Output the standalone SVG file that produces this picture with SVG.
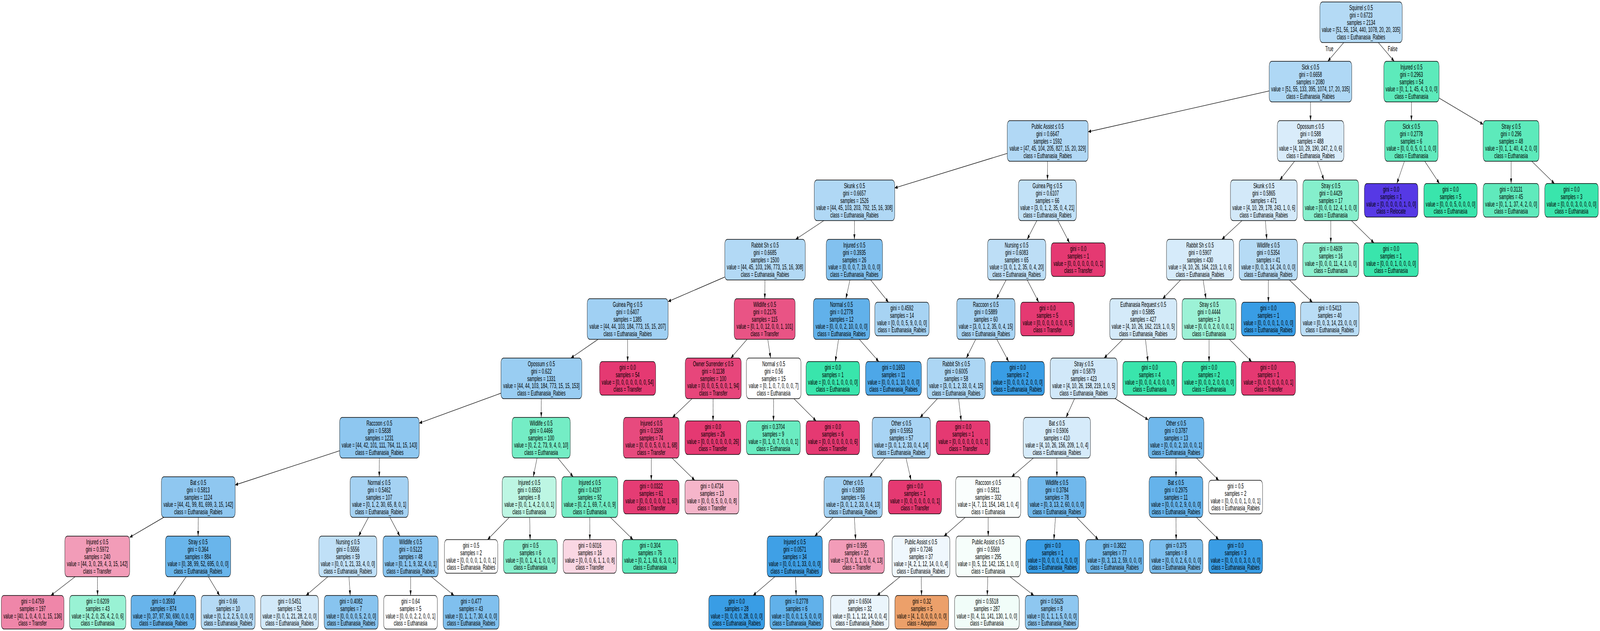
<svg xmlns="http://www.w3.org/2000/svg" width="7477" height="1616" viewBox="0 0 7477 1616" preserveAspectRatio="none">
<style>
svg{width:100vw;height:100vh;display:block}
.node rect{stroke:#000;stroke-width:1.33}
text{font-family:"Liberation Sans",Arial,Helvetica,sans-serif;font-size:18.67px;text-anchor:middle;fill:#000}
#edges line{stroke:#000;stroke-width:1.33;marker-end:url(#arr)}
</style>
<defs>
<marker id="arr" markerUnits="userSpaceOnUse" markerWidth="14" markerHeight="10" refX="13.3" refY="4.7" orient="auto"><path d="M0,0 L13.3,4.7 L0,9.4 z" fill="#000"/></marker>
</defs>
<rect width="7477" height="1616" fill="#fff"/>
<g id="edges">
<line x1="6279.6" y1="109" x2="6204.9" y2="157"/>
<line x1="6441.1" y1="109" x2="6515.4" y2="157"/>
<line x1="5931" y1="232.9" x2="5085" y2="337.6"/>
<line x1="6124.2" y1="261" x2="6124.3" y2="309"/>
<line x1="6595.8" y1="261" x2="6595.7" y2="309"/>
<line x1="6725" y1="251.1" x2="6931" y2="318.4"/>
<line x1="4707" y1="392.8" x2="4181" y2="481.4"/>
<line x1="4895.5" y1="413" x2="4895" y2="461"/>
<line x1="6049.8" y1="413" x2="5980.7" y2="461"/>
<line x1="6156.8" y1="413" x2="6186.7" y2="461"/>
<line x1="6563.2" y1="413" x2="6527.7" y2="470"/>
<line x1="6658.1" y1="413" x2="6726.7" y2="470"/>
<line x1="7061.5" y1="413" x2="7061.5" y2="470"/>
<line x1="7158.1" y1="413" x2="7264.1" y2="470"/>
<line x1="3850" y1="565" x2="3718" y2="613"/>
<line x1="3992.8" y1="565" x2="3992.7" y2="613"/>
<line x1="4845.4" y1="565" x2="4800.1" y2="613"/>
<line x1="4943.9" y1="565" x2="4998.1" y2="622"/>
<line x1="5804.1" y1="565" x2="5709.9" y2="613"/>
<line x1="5913.2" y1="565" x2="5919.8" y2="613"/>
<line x1="6219" y1="565" x2="6219" y2="622"/>
<line x1="6315.3" y1="565" x2="6420.9" y2="622"/>
<line x1="3387" y1="709.5" x2="3122" y2="772.3"/>
<line x1="3574.5" y1="717" x2="3574" y2="765"/>
<line x1="3972" y1="717" x2="3953" y2="765"/>
<line x1="4068.6" y1="717" x2="4152.1" y2="774"/>
<line x1="4701.7" y1="717" x2="4656.3" y2="765"/>
<line x1="4800.3" y1="717" x2="4854.3" y2="774"/>
<line x1="5517.2" y1="717" x2="5433.3" y2="765"/>
<line x1="5622.4" y1="717" x2="5635.6" y2="765"/>
<line x1="5927.2" y1="717" x2="5927.3" y2="774"/>
<line x1="6025.4" y1="717" x2="6133.2" y2="774"/>
<line x1="2795.1" y1="869" x2="2667.9" y2="917"/>
<line x1="2933" y1="869" x2="2933" y2="926"/>
<line x1="3491.2" y1="869" x2="3415.3" y2="917"/>
<line x1="3587.9" y1="869" x2="3601.1" y2="917"/>
<line x1="3918.6" y1="869" x2="3903.5" y2="926"/>
<line x1="4015.6" y1="869" x2="4106.8" y2="926"/>
<line x1="4559.6" y1="869" x2="4515.9" y2="917"/>
<line x1="4658" y1="869" x2="4713.8" y2="926"/>
<line x1="5247.4" y1="869" x2="5159.6" y2="917"/>
<line x1="5352.9" y1="869" x2="5364.4" y2="926"/>
<line x1="5650" y1="869" x2="5650" y2="926"/>
<line x1="5744.9" y1="869" x2="5849" y2="926"/>
<line x1="2341" y1="1007" x2="1959" y2="1083.7"/>
<line x1="2529.7" y1="1021" x2="2529.3" y2="1069"/>
<line x1="3234" y1="1021" x2="3142.5" y2="1069"/>
<line x1="3332.5" y1="1021" x2="3332" y2="1078"/>
<line x1="3615" y1="1021" x2="3614.5" y2="1078"/>
<line x1="3710.1" y1="1021" x2="3813.8" y2="1078"/>
<line x1="4380.8" y1="1021" x2="4299.7" y2="1069"/>
<line x1="4479.6" y1="1021" x2="4491.8" y2="1078"/>
<line x1="5021.6" y1="1021" x2="4981.9" y2="1069"/>
<line x1="5212.1" y1="1021" x2="5366" y2="1075.2"/>
<line x1="1587" y1="1154.4" x2="1099" y2="1242"/>
<line x1="1772.7" y1="1173" x2="1772.3" y2="1221"/>
<line x1="2509.8" y1="1173" x2="2492.2" y2="1221"/>
<line x1="2606.7" y1="1173" x2="2678.3" y2="1221"/>
<line x1="3043.5" y1="1173" x2="3043.5" y2="1230"/>
<line x1="3140.5" y1="1173" x2="3246.8" y2="1230"/>
<line x1="4135" y1="1173" x2="4064" y2="1221"/>
<line x1="4233.7" y1="1173" x2="4257.5" y2="1230"/>
<line x1="4829.2" y1="1173" x2="4727.8" y2="1221"/>
<line x1="4939" y1="1173" x2="4939" y2="1221"/>
<line x1="5495.8" y1="1173" x2="5495.7" y2="1221"/>
<line x1="5591.1" y1="1173" x2="5695.4" y2="1230"/>
<line x1="765" y1="1325" x2="606" y2="1376.2"/>
<line x1="926.2" y1="1325" x2="925.8" y2="1373"/>
<line x1="1721.9" y1="1325" x2="1675.6" y2="1373"/>
<line x1="1822.3" y1="1325" x2="1868.7" y2="1373"/>
<line x1="2380.1" y1="1325" x2="2278.3" y2="1382"/>
<line x1="2475.1" y1="1325" x2="2477.3" y2="1382"/>
<line x1="2756.2" y1="1325" x2="2756.4" y2="1382"/>
<line x1="2852.5" y1="1325" x2="2958.2" y2="1382"/>
<line x1="3893.6" y1="1325" x2="3807.4" y2="1373"/>
<line x1="3992.5" y1="1325" x2="3998.5" y2="1382"/>
<line x1="4510.6" y1="1325" x2="4411.4" y2="1373"/>
<line x1="4618" y1="1325" x2="4618" y2="1373"/>
<line x1="4932.3" y1="1325" x2="4925" y2="1382"/>
<line x1="5031.2" y1="1325" x2="5132.3" y2="1382"/>
<line x1="5495.8" y1="1325" x2="5496.2" y2="1382"/>
<line x1="5590.8" y1="1325" x2="5695.2" y2="1382"/>
<line x1="351.2" y1="1477" x2="237.9" y2="1525"/>
<line x1="455.2" y1="1477" x2="456" y2="1525"/>
<line x1="870.1" y1="1477" x2="809.3" y2="1525"/>
<line x1="973.6" y1="1477" x2="1026.3" y2="1525"/>
<line x1="1532.3" y1="1477" x2="1430.1" y2="1525"/>
<line x1="1630.8" y1="1477" x2="1636.6" y2="1525"/>
<line x1="1918.8" y1="1477" x2="1918.7" y2="1525"/>
<line x1="2015.6" y1="1477" x2="2121.6" y2="1525"/>
<line x1="3621.1" y1="1477" x2="3519.3" y2="1525"/>
<line x1="3717.1" y1="1477" x2="3720.5" y2="1525"/>
<line x1="4206.2" y1="1477" x2="4098.9" y2="1525"/>
<line x1="4305.2" y1="1477" x2="4306.5" y2="1525"/>
<line x1="4616" y1="1477" x2="4613.7" y2="1525"/>
<line x1="4719.8" y1="1477" x2="4831.3" y2="1525"/>
</g>
<text x="6212" y="131">True</text>
<text x="6508" y="131">False</text>
<g class="node" id="n0"><rect x="6168" y="5" width="385" height="104" rx="12" fill="#b4daf5"/><text x="6360.5" y="26.3"><tspan x="6360.5">Squirrel ≤ 0.5</tspan><tspan x="6360.5" dy="18.67">gini = 0.6723</tspan><tspan x="6360.5" dy="18.67">samples = 2134</tspan><tspan x="6360.5" dy="18.67">value = [51, 56, 134, 440, 1078, 20, 20, 335]</tspan><tspan x="6360.5" dy="18.67">class = Euthanasia_Rabies</tspan></text></g>
<g class="node" id="n1"><rect x="5931" y="157" width="386" height="104" rx="12" fill="#afd8f5"/><text x="6124" y="178.3"><tspan x="6124">Sick ≤ 0.5</tspan><tspan x="6124" dy="18.67">gini = 0.6658</tspan><tspan x="6124" dy="18.67">samples = 2080</tspan><tspan x="6124" dy="18.67">value = [51, 55, 133, 395, 1074, 17, 20, 335]</tspan><tspan x="6124" dy="18.67">class = Euthanasia_Rabies</tspan></text></g>
<g class="node" id="n2"><rect x="6467" y="157" width="258" height="104" rx="12" fill="#5deabb"/><text x="6596" y="178.3"><tspan x="6596">Injured ≤ 0.5</tspan><tspan x="6596" dy="18.67">gini = 0.2963</tspan><tspan x="6596" dy="18.67">samples = 54</tspan><tspan x="6596" dy="18.67">value = [0, 1, 1, 45, 4, 3, 0, 0]</tspan><tspan x="6596" dy="18.67">class = Euthanasia</tspan></text></g>
<g class="node" id="n3"><rect x="4707" y="309" width="378" height="104" rx="12" fill="#b1d8f5"/><text x="4896" y="330.3"><tspan x="4896">Public Assist ≤ 0.5</tspan><tspan x="4896" dy="18.67">gini = 0.6647</tspan><tspan x="4896" dy="18.67">samples = 1592</tspan><tspan x="4896" dy="18.67">value = [47, 45, 104, 205, 827, 15, 20, 329]</tspan><tspan x="4896" dy="18.67">class = Euthanasia_Rabies</tspan></text></g>
<g class="node" id="n4"><rect x="5969" y="309" width="311" height="104" rx="12" fill="#d9ecfa"/><text x="6124.5" y="330.3"><tspan x="6124.5">Opossum ≤ 0.5</tspan><tspan x="6124.5" dy="18.67">gini = 0.588</tspan><tspan x="6124.5" dy="18.67">samples = 488</tspan><tspan x="6124.5" dy="18.67">value = [4, 10, 29, 190, 247, 2, 0, 6]</tspan><tspan x="6124.5" dy="18.67">class = Euthanasia_Rabies</tspan></text></g>
<g class="node" id="n5"><rect x="6471" y="309" width="249" height="104" rx="12" fill="#61eabd"/><text x="6595.5" y="330.3"><tspan x="6595.5">Sick ≤ 0.5</tspan><tspan x="6595.5" dy="18.67">gini = 0.2778</tspan><tspan x="6595.5" dy="18.67">samples = 6</tspan><tspan x="6595.5" dy="18.67">value = [0, 0, 0, 5, 0, 1, 0, 0]</tspan><tspan x="6595.5" dy="18.67">class = Euthanasia</tspan></text></g>
<g class="node" id="n6"><rect x="6931" y="309" width="261" height="104" rx="12" fill="#5deabb"/><text x="7061.5" y="330.3"><tspan x="7061.5">Stray ≤ 0.5</tspan><tspan x="7061.5" dy="18.67">gini = 0.296</tspan><tspan x="7061.5" dy="18.67">samples = 48</tspan><tspan x="7061.5" dy="18.67">value = [0, 1, 1, 40, 4, 2, 0, 0]</tspan><tspan x="7061.5" dy="18.67">class = Euthanasia</tspan></text></g>
<g class="node" id="n7"><rect x="3805" y="461" width="376" height="104" rx="12" fill="#b0d8f5"/><text x="3993" y="482.3"><tspan x="3993">Skunk ≤ 0.5</tspan><tspan x="3993" dy="18.67">gini = 0.6657</tspan><tspan x="3993" dy="18.67">samples = 1526</tspan><tspan x="3993" dy="18.67">value = [44, 45, 103, 203, 792, 15, 16, 308]</tspan><tspan x="3993" dy="18.67">class = Euthanasia_Rabies</tspan></text></g>
<g class="node" id="n8"><rect x="4759" y="461" width="271" height="104" rx="12" fill="#c1e1f7"/><text x="4894.5" y="482.3"><tspan x="4894.5">Guinea Pig ≤ 0.5</tspan><tspan x="4894.5" dy="18.67">gini = 0.6107</tspan><tspan x="4894.5" dy="18.67">samples = 66</tspan><tspan x="4894.5" dy="18.67">value = [3, 0, 1, 2, 35, 0, 4, 21]</tspan><tspan x="4894.5" dy="18.67">class = Euthanasia_Rabies</tspan></text></g>
<g class="node" id="n9"><rect x="5750" y="461" width="312" height="104" rx="12" fill="#d3e9f9"/><text x="5906" y="482.3"><tspan x="5906">Skunk ≤ 0.5</tspan><tspan x="5906" dy="18.67">gini = 0.5865</tspan><tspan x="5906" dy="18.67">samples = 471</tspan><tspan x="5906" dy="18.67">value = [4, 10, 29, 178, 243, 1, 0, 6]</tspan><tspan x="5906" dy="18.67">class = Euthanasia_Rabies</tspan></text></g>
<g class="node" id="n10"><rect x="6089" y="461" width="260" height="104" rx="12" fill="#85efcc"/><text x="6219" y="482.3"><tspan x="6219">Stray ≤ 0.5</tspan><tspan x="6219" dy="18.67">gini = 0.4429</tspan><tspan x="6219" dy="18.67">samples = 17</tspan><tspan x="6219" dy="18.67">value = [0, 0, 0, 12, 4, 1, 0, 0]</tspan><tspan x="6219" dy="18.67">class = Euthanasia</tspan></text></g>
<g class="node" id="n11"><rect x="6376" y="470" width="250" height="86" rx="12" fill="#5639e5"/><text x="6501" y="491.3"><tspan x="6501">gini = 0.0</tspan><tspan x="6501" dy="18.67">samples = 1</tspan><tspan x="6501" dy="18.67">value = [0, 0, 0, 0, 0, 1, 0, 0]</tspan><tspan x="6501" dy="18.67">class = Relocate</tspan></text></g>
<g class="node" id="n12"><rect x="6654" y="470" width="249" height="86" rx="12" fill="#39e5ac"/><text x="6778.5" y="491.3"><tspan x="6778.5">gini = 0.0</tspan><tspan x="6778.5" dy="18.67">samples = 5</tspan><tspan x="6778.5" dy="18.67">value = [0, 0, 0, 5, 0, 0, 0, 0]</tspan><tspan x="6778.5" dy="18.67">class = Euthanasia</tspan></text></g>
<g class="node" id="n13"><rect x="6931" y="470" width="261" height="86" rx="12" fill="#60eabc"/><text x="7061.5" y="491.3"><tspan x="7061.5">gini = 0.3131</tspan><tspan x="7061.5" dy="18.67">samples = 45</tspan><tspan x="7061.5" dy="18.67">value = [0, 1, 1, 37, 4, 2, 0, 0]</tspan><tspan x="7061.5" dy="18.67">class = Euthanasia</tspan></text></g>
<g class="node" id="n14"><rect x="7219" y="470" width="250" height="86" rx="12" fill="#39e5ac"/><text x="7344" y="491.3"><tspan x="7344">gini = 0.0</tspan><tspan x="7344" dy="18.67">samples = 3</tspan><tspan x="7344" dy="18.67">value = [0, 0, 0, 3, 0, 0, 0, 0]</tspan><tspan x="7344" dy="18.67">class = Euthanasia</tspan></text></g>
<g class="node" id="n15"><rect x="3387" y="613" width="376" height="104" rx="12" fill="#b2d9f5"/><text x="3575" y="634.3"><tspan x="3575">Rabbit Sh ≤ 0.5</tspan><tspan x="3575" dy="18.67">gini = 0.6685</tspan><tspan x="3575" dy="18.67">samples = 1500</tspan><tspan x="3575" dy="18.67">value = [44, 45, 103, 196, 773, 15, 16, 308]</tspan><tspan x="3575" dy="18.67">class = Euthanasia_Rabies</tspan></text></g>
<g class="node" id="n16"><rect x="3861" y="613" width="263" height="104" rx="12" fill="#82c1ef"/><text x="3992.5" y="634.3"><tspan x="3992.5">Injured ≤ 0.5</tspan><tspan x="3992.5" dy="18.67">gini = 0.3935</tspan><tspan x="3992.5" dy="18.67">samples = 26</tspan><tspan x="3992.5" dy="18.67">value = [0, 0, 0, 7, 19, 0, 0, 0]</tspan><tspan x="3992.5" dy="18.67">class = Euthanasia_Rabies</tspan></text></g>
<g class="node" id="n17"><rect x="4615" y="613" width="272" height="104" rx="12" fill="#bddef6"/><text x="4751" y="634.3"><tspan x="4751">Nursing ≤ 0.5</tspan><tspan x="4751" dy="18.67">gini = 0.6083</tspan><tspan x="4751" dy="18.67">samples = 65</tspan><tspan x="4751" dy="18.67">value = [3, 0, 1, 2, 35, 0, 4, 20]</tspan><tspan x="4751" dy="18.67">class = Euthanasia_Rabies</tspan></text></g>
<g class="node" id="n18"><rect x="4912" y="622" width="254" height="86" rx="12" fill="#e53972"/><text x="5039" y="643.3"><tspan x="5039">gini = 0.0</tspan><tspan x="5039" dy="18.67">samples = 1</tspan><tspan x="5039" dy="18.67">value = [0, 0, 0, 0, 0, 0, 0, 1]</tspan><tspan x="5039" dy="18.67">class = Transfer</tspan></text></g>
<g class="node" id="n19"><rect x="5451" y="613" width="314" height="104" rx="12" fill="#d6ebfa"/><text x="5608" y="634.3"><tspan x="5608">Rabbit Sh ≤ 0.5</tspan><tspan x="5608" dy="18.67">gini = 0.5907</tspan><tspan x="5608" dy="18.67">samples = 430</tspan><tspan x="5608" dy="18.67">value = [4, 10, 26, 164, 219, 1, 0, 6]</tspan><tspan x="5608" dy="18.67">class = Euthanasia_Rabies</tspan></text></g>
<g class="node" id="n20"><rect x="5791" y="613" width="272" height="104" rx="12" fill="#b6dbf5"/><text x="5927" y="634.3"><tspan x="5927">Wildlife ≤ 0.5</tspan><tspan x="5927" dy="18.67">gini = 0.5354</tspan><tspan x="5927" dy="18.67">samples = 41</tspan><tspan x="5927" dy="18.67">value = [0, 0, 3, 14, 24, 0, 0, 0]</tspan><tspan x="5927" dy="18.67">class = Euthanasia_Rabies</tspan></text></g>
<g class="node" id="n21"><rect x="6088" y="622" width="262" height="86" rx="12" fill="#8cf0cf"/><text x="6219" y="643.3"><tspan x="6219">gini = 0.4609</tspan><tspan x="6219" dy="18.67">samples = 16</tspan><tspan x="6219" dy="18.67">value = [0, 0, 0, 11, 4, 1, 0, 0]</tspan><tspan x="6219" dy="18.67">class = Euthanasia</tspan></text></g>
<g class="node" id="n22"><rect x="6373" y="622" width="255" height="86" rx="12" fill="#39e5ac"/><text x="6500.5" y="643.3"><tspan x="6500.5">gini = 0.0</tspan><tspan x="6500.5" dy="18.67">samples = 1</tspan><tspan x="6500.5" dy="18.67">value = [0, 0, 0, 1, 0, 0, 0, 0]</tspan><tspan x="6500.5" dy="18.67">class = Euthanasia</tspan></text></g>
<g class="node" id="n23"><rect x="2744" y="765" width="378" height="104" rx="12" fill="#a0d0f3"/><text x="2933" y="786.3"><tspan x="2933">Guinea Pig ≤ 0.5</tspan><tspan x="2933" dy="18.67">gini = 0.6407</tspan><tspan x="2933" dy="18.67">samples = 1385</tspan><tspan x="2933" dy="18.67">value = [44, 44, 103, 184, 773, 15, 15, 207]</tspan><tspan x="2933" dy="18.67">class = Euthanasia_Rabies</tspan></text></g>
<g class="node" id="n24"><rect x="3431" y="765" width="285" height="104" rx="12" fill="#e95485"/><text x="3573.5" y="786.3"><tspan x="3573.5">Wildlife ≤ 0.5</tspan><tspan x="3573.5" dy="18.67">gini = 0.2176</tspan><tspan x="3573.5" dy="18.67">samples = 115</tspan><tspan x="3573.5" dy="18.67">value = [0, 1, 0, 12, 0, 0, 1, 101]</tspan><tspan x="3573.5" dy="18.67">class = Transfer</tspan></text></g>
<g class="node" id="n25"><rect x="3801" y="765" width="263" height="104" rx="12" fill="#61b1ea"/><text x="3932.5" y="786.3"><tspan x="3932.5">Normal ≤ 0.5</tspan><tspan x="3932.5" dy="18.67">gini = 0.2778</tspan><tspan x="3932.5" dy="18.67">samples = 12</tspan><tspan x="3932.5" dy="18.67">value = [0, 0, 0, 2, 10, 0, 0, 0]</tspan><tspan x="3932.5" dy="18.67">class = Euthanasia_Rabies</tspan></text></g>
<g class="node" id="n26"><rect x="4088" y="774" width="254" height="86" rx="12" fill="#a7d3f3"/><text x="4215" y="795.3"><tspan x="4215">gini = 0.4592</tspan><tspan x="4215" dy="18.67">samples = 14</tspan><tspan x="4215" dy="18.67">value = [0, 0, 0, 5, 9, 0, 0, 0]</tspan><tspan x="4215" dy="18.67">class = Euthanasia_Rabies</tspan></text></g>
<g class="node" id="n27"><rect x="4471" y="765" width="272" height="104" rx="12" fill="#a7d3f3"/><text x="4607" y="786.3"><tspan x="4607">Raccoon ≤ 0.5</tspan><tspan x="4607" dy="18.67">gini = 0.5889</tspan><tspan x="4607" dy="18.67">samples = 60</tspan><tspan x="4607" dy="18.67">value = [3, 0, 1, 2, 35, 0, 4, 15]</tspan><tspan x="4607" dy="18.67">class = Euthanasia_Rabies</tspan></text></g>
<g class="node" id="n28"><rect x="4769" y="774" width="252" height="86" rx="12" fill="#e53972"/><text x="4895" y="795.3"><tspan x="4895">gini = 0.0</tspan><tspan x="4895" dy="18.67">samples = 5</tspan><tspan x="4895" dy="18.67">value = [0, 0, 0, 0, 0, 0, 0, 5]</tspan><tspan x="4895" dy="18.67">class = Transfer</tspan></text></g>
<g class="node" id="n29"><rect x="5186" y="765" width="313" height="104" rx="12" fill="#d4eaf9"/><text x="5342.5" y="786.3"><tspan x="5342.5">Euthanasia Request ≤ 0.5</tspan><tspan x="5342.5" dy="18.67">gini = 0.5885</tspan><tspan x="5342.5" dy="18.67">samples = 427</tspan><tspan x="5342.5" dy="18.67">value = [4, 10, 26, 162, 219, 1, 0, 5]</tspan><tspan x="5342.5" dy="18.67">class = Euthanasia_Rabies</tspan></text></g>
<g class="node" id="n30"><rect x="5524" y="765" width="252" height="104" rx="12" fill="#9cf2d6"/><text x="5650" y="786.3"><tspan x="5650">Stray ≤ 0.5</tspan><tspan x="5650" dy="18.67">gini = 0.4444</tspan><tspan x="5650" dy="18.67">samples = 3</tspan><tspan x="5650" dy="18.67">value = [0, 0, 0, 2, 0, 0, 0, 1]</tspan><tspan x="5650" dy="18.67">class = Euthanasia</tspan></text></g>
<g class="node" id="n31"><rect x="5801" y="774" width="253" height="86" rx="12" fill="#399de5"/><text x="5927.5" y="795.3"><tspan x="5927.5">gini = 0.0</tspan><tspan x="5927.5" dy="18.67">samples = 1</tspan><tspan x="5927.5" dy="18.67">value = [0, 0, 0, 0, 1, 0, 0, 0]</tspan><tspan x="5927.5" dy="18.67">class = Euthanasia_Rabies</tspan></text></g>
<g class="node" id="n32"><rect x="6078" y="774" width="273" height="86" rx="12" fill="#baddf6"/><text x="6214.5" y="795.3"><tspan x="6214.5">gini = 0.5413</tspan><tspan x="6214.5" dy="18.67">samples = 40</tspan><tspan x="6214.5" dy="18.67">value = [0, 0, 3, 14, 23, 0, 0, 0]</tspan><tspan x="6214.5" dy="18.67">class = Euthanasia_Rabies</tspan></text></g>
<g class="node" id="n33"><rect x="2341" y="917" width="378" height="104" rx="12" fill="#99cdf2"/><text x="2530" y="938.3"><tspan x="2530">Opossum ≤ 0.5</tspan><tspan x="2530" dy="18.67">gini = 0.622</tspan><tspan x="2530" dy="18.67">samples = 1331</tspan><tspan x="2530" dy="18.67">value = [44, 44, 103, 184, 773, 15, 15, 153]</tspan><tspan x="2530" dy="18.67">class = Euthanasia_Rabies</tspan></text></g>
<g class="node" id="n34"><rect x="2802" y="926" width="262" height="86" rx="12" fill="#e53972"/><text x="2933" y="947.3"><tspan x="2933">gini = 0.0</tspan><tspan x="2933" dy="18.67">samples = 54</tspan><tspan x="2933" dy="18.67">value = [0, 0, 0, 0, 0, 0, 0, 54]</tspan><tspan x="2933" dy="18.67">class = Transfer</tspan></text></g>
<g class="node" id="n35"><rect x="3202" y="917" width="262" height="104" rx="12" fill="#e7467b"/><text x="3333" y="938.3"><tspan x="3333">Owner Surrender ≤ 0.5</tspan><tspan x="3333" dy="18.67">gini = 0.1138</tspan><tspan x="3333" dy="18.67">samples = 100</tspan><tspan x="3333" dy="18.67">value = [0, 0, 0, 5, 0, 0, 1, 94]</tspan><tspan x="3333" dy="18.67">class = Transfer</tspan></text></g>
<g class="node" id="n36"><rect x="3488" y="917" width="255" height="104" rx="12" fill="#ffffff"/><text x="3615.5" y="938.3"><tspan x="3615.5">Normal ≤ 0.5</tspan><tspan x="3615.5" dy="18.67">gini = 0.56</tspan><tspan x="3615.5" dy="18.67">samples = 15</tspan><tspan x="3615.5" dy="18.67">value = [0, 1, 0, 7, 0, 0, 0, 7]</tspan><tspan x="3615.5" dy="18.67">class = Euthanasia</tspan></text></g>
<g class="node" id="n37"><rect x="3767" y="926" width="250" height="86" rx="12" fill="#39e5ac"/><text x="3892" y="947.3"><tspan x="3892">gini = 0.0</tspan><tspan x="3892" dy="18.67">samples = 1</tspan><tspan x="3892" dy="18.67">value = [0, 0, 0, 1, 0, 0, 0, 0]</tspan><tspan x="3892" dy="18.67">class = Euthanasia</tspan></text></g>
<g class="node" id="n38"><rect x="4045" y="926" width="261" height="86" rx="12" fill="#4da7e8"/><text x="4175.5" y="947.3"><tspan x="4175.5">gini = 0.1653</tspan><tspan x="4175.5" dy="18.67">samples = 11</tspan><tspan x="4175.5" dy="18.67">value = [0, 0, 0, 1, 10, 0, 0, 0]</tspan><tspan x="4175.5" dy="18.67">class = Euthanasia_Rabies</tspan></text></g>
<g class="node" id="n39"><rect x="4333" y="917" width="271" height="104" rx="12" fill="#acd6f4"/><text x="4468.5" y="938.3"><tspan x="4468.5">Rabbit Sh ≤ 0.5</tspan><tspan x="4468.5" dy="18.67">gini = 0.6005</tspan><tspan x="4468.5" dy="18.67">samples = 58</tspan><tspan x="4468.5" dy="18.67">value = [3, 0, 1, 2, 33, 0, 4, 15]</tspan><tspan x="4468.5" dy="18.67">class = Euthanasia_Rabies</tspan></text></g>
<g class="node" id="n40"><rect x="4631" y="926" width="250" height="86" rx="12" fill="#399de5"/><text x="4756" y="947.3"><tspan x="4756">gini = 0.0</tspan><tspan x="4756" dy="18.67">samples = 2</tspan><tspan x="4756" dy="18.67">value = [0, 0, 0, 0, 2, 0, 0, 0]</tspan><tspan x="4756" dy="18.67">class = Euthanasia_Rabies</tspan></text></g>
<g class="node" id="n41"><rect x="4908" y="917" width="313" height="104" rx="12" fill="#d1e8f9"/><text x="5064.5" y="938.3"><tspan x="5064.5">Stray ≤ 0.5</tspan><tspan x="5064.5" dy="18.67">gini = 0.5879</tspan><tspan x="5064.5" dy="18.67">samples = 423</tspan><tspan x="5064.5" dy="18.67">value = [4, 10, 26, 158, 219, 1, 0, 5]</tspan><tspan x="5064.5" dy="18.67">class = Euthanasia_Rabies</tspan></text></g>
<g class="node" id="n42"><rect x="5247" y="926" width="252" height="86" rx="12" fill="#39e5ac"/><text x="5373" y="947.3"><tspan x="5373">gini = 0.0</tspan><tspan x="5373" dy="18.67">samples = 4</tspan><tspan x="5373" dy="18.67">value = [0, 0, 0, 4, 0, 0, 0, 0]</tspan><tspan x="5373" dy="18.67">class = Euthanasia</tspan></text></g>
<g class="node" id="n43"><rect x="5524" y="926" width="252" height="86" rx="12" fill="#39e5ac"/><text x="5650" y="947.3"><tspan x="5650">gini = 0.0</tspan><tspan x="5650" dy="18.67">samples = 2</tspan><tspan x="5650" dy="18.67">value = [0, 0, 0, 2, 0, 0, 0, 0]</tspan><tspan x="5650" dy="18.67">class = Euthanasia</tspan></text></g>
<g class="node" id="n44"><rect x="5801" y="926" width="253" height="86" rx="12" fill="#e53972"/><text x="5927.5" y="947.3"><tspan x="5927.5">gini = 0.0</tspan><tspan x="5927.5" dy="18.67">samples = 1</tspan><tspan x="5927.5" dy="18.67">value = [0, 0, 0, 0, 0, 0, 0, 1]</tspan><tspan x="5927.5" dy="18.67">class = Transfer</tspan></text></g>
<g class="node" id="n45"><rect x="1587" y="1069" width="372" height="104" rx="12" fill="#8ec7f0"/><text x="1773" y="1090.3"><tspan x="1773">Raccoon ≤ 0.5</tspan><tspan x="1773" dy="18.67">gini = 0.5838</tspan><tspan x="1773" dy="18.67">samples = 1231</tspan><tspan x="1773" dy="18.67">value = [44, 42, 101, 111, 764, 11, 15, 143]</tspan><tspan x="1773" dy="18.67">class = Euthanasia_Rabies</tspan></text></g>
<g class="node" id="n46"><rect x="2393" y="1069" width="272" height="104" rx="12" fill="#74edc5"/><text x="2529" y="1090.3"><tspan x="2529">Wildlife ≤ 0.5</tspan><tspan x="2529" dy="18.67">gini = 0.4466</tspan><tspan x="2529" dy="18.67">samples = 100</tspan><tspan x="2529" dy="18.67">value = [0, 2, 2, 73, 9, 4, 0, 10]</tspan><tspan x="2529" dy="18.67">class = Euthanasia</tspan></text></g>
<g class="node" id="n47"><rect x="2913" y="1069" width="261" height="104" rx="12" fill="#e74a7e"/><text x="3043.5" y="1090.3"><tspan x="3043.5">Injured ≤ 0.5</tspan><tspan x="3043.5" dy="18.67">gini = 0.1508</tspan><tspan x="3043.5" dy="18.67">samples = 74</tspan><tspan x="3043.5" dy="18.67">value = [0, 0, 0, 5, 0, 0, 1, 68]</tspan><tspan x="3043.5" dy="18.67">class = Transfer</tspan></text></g>
<g class="node" id="n48"><rect x="3201" y="1078" width="261" height="86" rx="12" fill="#e53972"/><text x="3331.5" y="1099.3"><tspan x="3331.5">gini = 0.0</tspan><tspan x="3331.5" dy="18.67">samples = 26</tspan><tspan x="3331.5" dy="18.67">value = [0, 0, 0, 0, 0, 0, 0, 26]</tspan><tspan x="3331.5" dy="18.67">class = Transfer</tspan></text></g>
<g class="node" id="n49"><rect x="3488" y="1078" width="252" height="86" rx="12" fill="#6aecc1"/><text x="3614" y="1099.3"><tspan x="3614">gini = 0.3704</tspan><tspan x="3614" dy="18.67">samples = 9</tspan><tspan x="3614" dy="18.67">value = [0, 1, 0, 7, 0, 0, 0, 1]</tspan><tspan x="3614" dy="18.67">class = Euthanasia</tspan></text></g>
<g class="node" id="n50"><rect x="3767" y="1078" width="250" height="86" rx="12" fill="#e53972"/><text x="3892" y="1099.3"><tspan x="3892">gini = 0.0</tspan><tspan x="3892" dy="18.67">samples = 6</tspan><tspan x="3892" dy="18.67">value = [0, 0, 0, 0, 0, 0, 0, 6]</tspan><tspan x="3892" dy="18.67">class = Transfer</tspan></text></g>
<g class="node" id="n51"><rect x="4076" y="1069" width="272" height="104" rx="12" fill="#a8d4f4"/><text x="4212" y="1090.3"><tspan x="4212">Other ≤ 0.5</tspan><tspan x="4212" dy="18.67">gini = 0.5953</tspan><tspan x="4212" dy="18.67">samples = 57</tspan><tspan x="4212" dy="18.67">value = [3, 0, 1, 2, 33, 0, 4, 14]</tspan><tspan x="4212" dy="18.67">class = Euthanasia_Rabies</tspan></text></g>
<g class="node" id="n52"><rect x="4375" y="1078" width="252" height="86" rx="12" fill="#e53972"/><text x="4501" y="1099.3"><tspan x="4501">gini = 0.0</tspan><tspan x="4501" dy="18.67">samples = 1</tspan><tspan x="4501" dy="18.67">value = [0, 0, 0, 0, 0, 0, 0, 1]</tspan><tspan x="4501" dy="18.67">class = Transfer</tspan></text></g>
<g class="node" id="n53"><rect x="4782" y="1069" width="314" height="104" rx="12" fill="#d6ebfa"/><text x="4939" y="1090.3"><tspan x="4939">Bat ≤ 0.5</tspan><tspan x="4939" dy="18.67">gini = 0.5906</tspan><tspan x="4939" dy="18.67">samples = 410</tspan><tspan x="4939" dy="18.67">value = [4, 10, 26, 156, 209, 1, 0, 4]</tspan><tspan x="4939" dy="18.67">class = Euthanasia_Rabies</tspan></text></g>
<g class="node" id="n54"><rect x="5366" y="1069" width="260" height="104" rx="12" fill="#6fb8ec"/><text x="5496" y="1090.3"><tspan x="5496">Other ≤ 0.5</tspan><tspan x="5496" dy="18.67">gini = 0.3787</tspan><tspan x="5496" dy="18.67">samples = 13</tspan><tspan x="5496" dy="18.67">value = [0, 0, 0, 2, 10, 0, 0, 1]</tspan><tspan x="5496" dy="18.67">class = Euthanasia_Rabies</tspan></text></g>
<g class="node" id="n55"><rect x="754" y="1221" width="345" height="104" rx="12" fill="#8fc7f0"/><text x="926.5" y="1242.3"><tspan x="926.5">Bat ≤ 0.5</tspan><tspan x="926.5" dy="18.67">gini = 0.5813</tspan><tspan x="926.5" dy="18.67">samples = 1124</tspan><tspan x="926.5" dy="18.67">value = [44, 41, 99, 81, 699, 3, 15, 142]</tspan><tspan x="926.5" dy="18.67">class = Euthanasia_Rabies</tspan></text></g>
<g class="node" id="n56"><rect x="1636" y="1221" width="272" height="104" rx="12" fill="#a5d2f3"/><text x="1772" y="1242.3"><tspan x="1772">Normal ≤ 0.5</tspan><tspan x="1772" dy="18.67">gini = 0.5462</tspan><tspan x="1772" dy="18.67">samples = 107</tspan><tspan x="1772" dy="18.67">value = [0, 1, 2, 30, 65, 8, 0, 1]</tspan><tspan x="1772" dy="18.67">class = Euthanasia_Rabies</tspan></text></g>
<g class="node" id="n57"><rect x="2347" y="1221" width="252" height="104" rx="12" fill="#bdf6e3"/><text x="2473" y="1242.3"><tspan x="2473">Injured ≤ 0.5</tspan><tspan x="2473" dy="18.67">gini = 0.6563</tspan><tspan x="2473" dy="18.67">samples = 8</tspan><tspan x="2473" dy="18.67">value = [0, 0, 1, 4, 2, 0, 0, 1]</tspan><tspan x="2473" dy="18.67">class = Euthanasia</tspan></text></g>
<g class="node" id="n58"><rect x="2625" y="1221" width="262" height="104" rx="12" fill="#70ecc3"/><text x="2756" y="1242.3"><tspan x="2756">Injured ≤ 0.5</tspan><tspan x="2756" dy="18.67">gini = 0.4197</tspan><tspan x="2756" dy="18.67">samples = 92</tspan><tspan x="2756" dy="18.67">value = [0, 2, 1, 69, 7, 4, 0, 9]</tspan><tspan x="2756" dy="18.67">class = Euthanasia</tspan></text></g>
<g class="node" id="n59"><rect x="2913" y="1230" width="261" height="86" rx="12" fill="#e53c74"/><text x="3043.5" y="1251.3"><tspan x="3043.5">gini = 0.0322</tspan><tspan x="3043.5" dy="18.67">samples = 61</tspan><tspan x="3043.5" dy="18.67">value = [0, 0, 0, 0, 0, 0, 1, 60]</tspan><tspan x="3043.5" dy="18.67">class = Transfer</tspan></text></g>
<g class="node" id="n60"><rect x="3201" y="1230" width="252" height="86" rx="12" fill="#f5b5ca"/><text x="3327" y="1251.3"><tspan x="3327">gini = 0.4734</tspan><tspan x="3327" dy="18.67">samples = 13</tspan><tspan x="3327" dy="18.67">value = [0, 0, 0, 5, 0, 0, 0, 8]</tspan><tspan x="3327" dy="18.67">class = Transfer</tspan></text></g>
<g class="node" id="n61"><rect x="3851" y="1221" width="272" height="104" rx="12" fill="#a3d1f3"/><text x="3987" y="1242.3"><tspan x="3987">Other ≤ 0.5</tspan><tspan x="3987" dy="18.67">gini = 0.5893</tspan><tspan x="3987" dy="18.67">samples = 56</tspan><tspan x="3987" dy="18.67">value = [3, 0, 1, 2, 33, 0, 4, 13]</tspan><tspan x="3987" dy="18.67">class = Euthanasia_Rabies</tspan></text></g>
<g class="node" id="n62"><rect x="4151" y="1230" width="249" height="86" rx="12" fill="#e53972"/><text x="4275.5" y="1251.3"><tspan x="4275.5">gini = 0.0</tspan><tspan x="4275.5" dy="18.67">samples = 1</tspan><tspan x="4275.5" dy="18.67">value = [0, 0, 0, 0, 0, 0, 0, 1]</tspan><tspan x="4275.5" dy="18.67">class = Transfer</tspan></text></g>
<g class="node" id="n63"><rect x="4466" y="1221" width="304" height="104" rx="12" fill="#fafefd"/><text x="4618" y="1242.3"><tspan x="4618">Raccoon ≤ 0.5</tspan><tspan x="4618" dy="18.67">gini = 0.5811</tspan><tspan x="4618" dy="18.67">samples = 332</tspan><tspan x="4618" dy="18.67">value = [4, 7, 13, 154, 149, 1, 0, 4]</tspan><tspan x="4618" dy="18.67">class = Euthanasia</tspan></text></g>
<g class="node" id="n64"><rect x="4803" y="1221" width="272" height="104" rx="12" fill="#70b8ec"/><text x="4939" y="1242.3"><tspan x="4939">Wildlife ≤ 0.5</tspan><tspan x="4939" dy="18.67">gini = 0.3784</tspan><tspan x="4939" dy="18.67">samples = 78</tspan><tspan x="4939" dy="18.67">value = [0, 3, 13, 2, 60, 0, 0, 0]</tspan><tspan x="4939" dy="18.67">class = Euthanasia_Rabies</tspan></text></g>
<g class="node" id="n65"><rect x="5370" y="1221" width="251" height="104" rx="12" fill="#65b3eb"/><text x="5495.5" y="1242.3"><tspan x="5495.5">Bat ≤ 0.5</tspan><tspan x="5495.5" dy="18.67">gini = 0.2975</tspan><tspan x="5495.5" dy="18.67">samples = 11</tspan><tspan x="5495.5" dy="18.67">value = [0, 0, 0, 2, 9, 0, 0, 0]</tspan><tspan x="5495.5" dy="18.67">class = Euthanasia_Rabies</tspan></text></g>
<g class="node" id="n66"><rect x="5648" y="1230" width="252" height="86" rx="12" fill="#ffffff"/><text x="5774" y="1251.3"><tspan x="5774">gini = 0.5</tspan><tspan x="5774" dy="18.67">samples = 2</tspan><tspan x="5774" dy="18.67">value = [0, 0, 0, 0, 1, 0, 0, 1]</tspan><tspan x="5774" dy="18.67">class = Euthanasia_Rabies</tspan></text></g>
<g class="node" id="n67"><rect x="303" y="1373" width="303" height="104" rx="12" fill="#f29cb8"/><text x="454.5" y="1394.3"><tspan x="454.5">Injured ≤ 0.5</tspan><tspan x="454.5" dy="18.67">gini = 0.5972</tspan><tspan x="454.5" dy="18.67">samples = 240</tspan><tspan x="454.5" dy="18.67">value = [44, 3, 0, 29, 4, 3, 15, 142]</tspan><tspan x="454.5" dy="18.67">class = Transfer</tspan></text></g>
<g class="node" id="n68"><rect x="773" y="1373" width="305" height="104" rx="12" fill="#69b5eb"/><text x="925.5" y="1394.3"><tspan x="925.5">Stray ≤ 0.5</tspan><tspan x="925.5" dy="18.67">gini = 0.364</tspan><tspan x="925.5" dy="18.67">samples = 884</tspan><tspan x="925.5" dy="18.67">value = [0, 38, 99, 52, 695, 0, 0, 0]</tspan><tspan x="925.5" dy="18.67">class = Euthanasia_Rabies</tspan></text></g>
<g class="node" id="n69"><rect x="1490" y="1373" width="271" height="104" rx="12" fill="#c0e0f7"/><text x="1625.5" y="1394.3"><tspan x="1625.5">Nursing ≤ 0.5</tspan><tspan x="1625.5" dy="18.67">gini = 0.5556</tspan><tspan x="1625.5" dy="18.67">samples = 59</tspan><tspan x="1625.5" dy="18.67">value = [0, 0, 1, 21, 33, 4, 0, 0]</tspan><tspan x="1625.5" dy="18.67">class = Euthanasia_Rabies</tspan></text></g>
<g class="node" id="n70"><rect x="1790" y="1373" width="258" height="104" rx="12" fill="#8ac5f0"/><text x="1919" y="1394.3"><tspan x="1919">Wildlife ≤ 0.5</tspan><tspan x="1919" dy="18.67">gini = 0.5122</tspan><tspan x="1919" dy="18.67">samples = 48</tspan><tspan x="1919" dy="18.67">value = [0, 1, 1, 9, 32, 4, 0, 1]</tspan><tspan x="1919" dy="18.67">class = Euthanasia_Rabies</tspan></text></g>
<g class="node" id="n71"><rect x="2077" y="1382" width="249" height="86" rx="12" fill="#ffffff"/><text x="2201.5" y="1403.3"><tspan x="2201.5">gini = 0.5</tspan><tspan x="2201.5" dy="18.67">samples = 2</tspan><tspan x="2201.5" dy="18.67">value = [0, 0, 0, 0, 1, 0, 0, 1]</tspan><tspan x="2201.5" dy="18.67">class = Euthanasia_Rabies</tspan></text></g>
<g class="node" id="n72"><rect x="2353" y="1382" width="252" height="86" rx="12" fill="#88efcd"/><text x="2479" y="1403.3"><tspan x="2479">gini = 0.5</tspan><tspan x="2479" dy="18.67">samples = 6</tspan><tspan x="2479" dy="18.67">value = [0, 0, 1, 4, 1, 0, 0, 0]</tspan><tspan x="2479" dy="18.67">class = Euthanasia</tspan></text></g>
<g class="node" id="n73"><rect x="2632" y="1382" width="249" height="86" rx="12" fill="#fad7e3"/><text x="2756.5" y="1403.3"><tspan x="2756.5">gini = 0.6016</tspan><tspan x="2756.5" dy="18.67">samples = 16</tspan><tspan x="2756.5" dy="18.67">value = [0, 0, 0, 6, 1, 1, 0, 8]</tspan><tspan x="2756.5" dy="18.67">class = Transfer</tspan></text></g>
<g class="node" id="n74"><rect x="2908" y="1382" width="260" height="86" rx="12" fill="#5eeabb"/><text x="3038" y="1403.3"><tspan x="3038">gini = 0.304</tspan><tspan x="3038" dy="18.67">samples = 76</tspan><tspan x="3038" dy="18.67">value = [0, 2, 1, 63, 6, 3, 0, 1]</tspan><tspan x="3038" dy="18.67">class = Euthanasia</tspan></text></g>
<g class="node" id="n75"><rect x="3585" y="1373" width="258" height="104" rx="12" fill="#3fa0e6"/><text x="3714" y="1394.3"><tspan x="3714">Injured ≤ 0.5</tspan><tspan x="3714" dy="18.67">gini = 0.0571</tspan><tspan x="3714" dy="18.67">samples = 34</tspan><tspan x="3714" dy="18.67">value = [0, 0, 0, 1, 33, 0, 0, 0]</tspan><tspan x="3714" dy="18.67">class = Euthanasia_Rabies</tspan></text></g>
<g class="node" id="n76"><rect x="3873" y="1382" width="260" height="86" rx="12" fill="#f29cb8"/><text x="4003" y="1403.3"><tspan x="4003">gini = 0.595</tspan><tspan x="4003" dy="18.67">samples = 22</tspan><tspan x="4003" dy="18.67">value = [3, 0, 1, 1, 0, 0, 4, 13]</tspan><tspan x="4003" dy="18.67">class = Transfer</tspan></text></g>
<g class="node" id="n77"><rect x="4169" y="1373" width="270" height="104" rx="12" fill="#eff7fd"/><text x="4304" y="1394.3"><tspan x="4304">Public Assist ≤ 0.5</tspan><tspan x="4304" dy="18.67">gini = 0.7246</tspan><tspan x="4304" dy="18.67">samples = 37</tspan><tspan x="4304" dy="18.67">value = [4, 2, 1, 12, 14, 0, 0, 4]</tspan><tspan x="4304" dy="18.67">class = Euthanasia_Rabies</tspan></text></g>
<g class="node" id="n78"><rect x="4467" y="1373" width="302" height="104" rx="12" fill="#f6fefb"/><text x="4618" y="1394.3"><tspan x="4618">Public Assist ≤ 0.5</tspan><tspan x="4618" dy="18.67">gini = 0.5569</tspan><tspan x="4618" dy="18.67">samples = 295</tspan><tspan x="4618" dy="18.67">value = [0, 5, 12, 142, 135, 1, 0, 0]</tspan><tspan x="4618" dy="18.67">class = Euthanasia</tspan></text></g>
<g class="node" id="n79"><rect x="4794" y="1382" width="251" height="86" rx="12" fill="#399de5"/><text x="4919.5" y="1403.3"><tspan x="4919.5">gini = 0.0</tspan><tspan x="4919.5" dy="18.67">samples = 1</tspan><tspan x="4919.5" dy="18.67">value = [0, 0, 0, 0, 1, 0, 0, 0]</tspan><tspan x="4919.5" dy="18.67">class = Euthanasia_Rabies</tspan></text></g>
<g class="node" id="n80"><rect x="5073" y="1382" width="271" height="86" rx="12" fill="#71b9ec"/><text x="5208.5" y="1403.3"><tspan x="5208.5">gini = 0.3822</tspan><tspan x="5208.5" dy="18.67">samples = 77</tspan><tspan x="5208.5" dy="18.67">value = [0, 3, 13, 2, 59, 0, 0, 0]</tspan><tspan x="5208.5" dy="18.67">class = Euthanasia_Rabies</tspan></text></g>
<g class="node" id="n81"><rect x="5372" y="1382" width="249" height="86" rx="12" fill="#7bbeee"/><text x="5496.5" y="1403.3"><tspan x="5496.5">gini = 0.375</tspan><tspan x="5496.5" dy="18.67">samples = 8</tspan><tspan x="5496.5" dy="18.67">value = [0, 0, 0, 2, 6, 0, 0, 0]</tspan><tspan x="5496.5" dy="18.67">class = Euthanasia_Rabies</tspan></text></g>
<g class="node" id="n82"><rect x="5648" y="1382" width="252" height="86" rx="12" fill="#399de5"/><text x="5774" y="1403.3"><tspan x="5774">gini = 0.0</tspan><tspan x="5774" dy="18.67">samples = 3</tspan><tspan x="5774" dy="18.67">value = [0, 0, 0, 0, 3, 0, 0, 0]</tspan><tspan x="5774" dy="18.67">class = Euthanasia_Rabies</tspan></text></g>
<g class="node" id="n83"><rect x="6" y="1525" width="293" height="86" rx="12" fill="#ef86a9"/><text x="152.5" y="1546.3"><tspan x="152.5">gini = 0.4759</tspan><tspan x="152.5" dy="18.67">samples = 197</tspan><tspan x="152.5" dy="18.67">value = [40, 1, 0, 4, 0, 1, 15, 136]</tspan><tspan x="152.5" dy="18.67">class = Transfer</tspan></text></g>
<g class="node" id="n84"><rect x="325" y="1525" width="263" height="86" rx="12" fill="#99f2d4"/><text x="456.5" y="1546.3"><tspan x="456.5">gini = 0.6209</tspan><tspan x="456.5" dy="18.67">samples = 43</tspan><tspan x="456.5" dy="18.67">value = [4, 2, 0, 25, 4, 2, 0, 6]</tspan><tspan x="456.5" dy="18.67">class = Euthanasia</tspan></text></g>
<g class="node" id="n85"><rect x="612" y="1525" width="303" height="86" rx="12" fill="#68b4eb"/><text x="763.5" y="1546.3"><tspan x="763.5">gini = 0.3593</tspan><tspan x="763.5" dy="18.67">samples = 874</tspan><tspan x="763.5" dy="18.67">value = [0, 37, 97, 50, 690, 0, 0, 0]</tspan><tspan x="763.5" dy="18.67">class = Euthanasia_Rabies</tspan></text></g>
<g class="node" id="n86"><rect x="940" y="1525" width="252" height="86" rx="12" fill="#b5daf5"/><text x="1066" y="1546.3"><tspan x="1066">gini = 0.66</tspan><tspan x="1066" dy="18.67">samples = 10</tspan><tspan x="1066" dy="18.67">value = [0, 1, 2, 2, 5, 0, 0, 0]</tspan><tspan x="1066" dy="18.67">class = Euthanasia_Rabies</tspan></text></g>
<g class="node" id="n87"><rect x="1218" y="1525" width="270" height="86" rx="12" fill="#d2e9f9"/><text x="1353" y="1546.3"><tspan x="1353">gini = 0.5451</tspan><tspan x="1353" dy="18.67">samples = 52</tspan><tspan x="1353" dy="18.67">value = [0, 0, 1, 21, 28, 2, 0, 0]</tspan><tspan x="1353" dy="18.67">class = Euthanasia_Rabies</tspan></text></g>
<g class="node" id="n88"><rect x="1515" y="1525" width="252" height="86" rx="12" fill="#88c4ef"/><text x="1641" y="1546.3"><tspan x="1641">gini = 0.4082</tspan><tspan x="1641" dy="18.67">samples = 7</tspan><tspan x="1641" dy="18.67">value = [0, 0, 0, 0, 5, 2, 0, 0]</tspan><tspan x="1641" dy="18.67">class = Euthanasia_Rabies</tspan></text></g>
<g class="node" id="n89"><rect x="1793" y="1525" width="251" height="86" rx="12" fill="#ffffff"/><text x="1918.5" y="1546.3"><tspan x="1918.5">gini = 0.64</tspan><tspan x="1918.5" dy="18.67">samples = 5</tspan><tspan x="1918.5" dy="18.67">value = [0, 0, 0, 2, 2, 0, 0, 1]</tspan><tspan x="1918.5" dy="18.67">class = Euthanasia</tspan></text></g>
<g class="node" id="n90"><rect x="2071" y="1525" width="261" height="86" rx="12" fill="#80c0ee"/><text x="2201.5" y="1546.3"><tspan x="2201.5">gini = 0.477</tspan><tspan x="2201.5" dy="18.67">samples = 43</tspan><tspan x="2201.5" dy="18.67">value = [0, 1, 1, 7, 30, 4, 0, 0]</tspan><tspan x="2201.5" dy="18.67">class = Euthanasia_Rabies</tspan></text></g>
<g class="node" id="n91"><rect x="3312" y="1525" width="261" height="86" rx="12" fill="#399de5"/><text x="3442.5" y="1546.3"><tspan x="3442.5">gini = 0.0</tspan><tspan x="3442.5" dy="18.67">samples = 28</tspan><tspan x="3442.5" dy="18.67">value = [0, 0, 0, 0, 28, 0, 0, 0]</tspan><tspan x="3442.5" dy="18.67">class = Euthanasia_Rabies</tspan></text></g>
<g class="node" id="n92"><rect x="3598" y="1525" width="250" height="86" rx="12" fill="#61b1ea"/><text x="3723" y="1546.3"><tspan x="3723">gini = 0.2778</tspan><tspan x="3723" dy="18.67">samples = 6</tspan><tspan x="3723" dy="18.67">value = [0, 0, 0, 1, 5, 0, 0, 0]</tspan><tspan x="3723" dy="18.67">class = Euthanasia_Rabies</tspan></text></g>
<g class="node" id="n93"><rect x="3882" y="1525" width="272" height="86" rx="12" fill="#ebf5fc"/><text x="4018" y="1546.3"><tspan x="4018">gini = 0.6504</tspan><tspan x="4018" dy="18.67">samples = 32</tspan><tspan x="4018" dy="18.67">value = [0, 1, 1, 12, 14, 0, 0, 4]</tspan><tspan x="4018" dy="18.67">class = Euthanasia_Rabies</tspan></text></g>
<g class="node" id="n94"><rect x="4182" y="1525" width="251" height="86" rx="12" fill="#eca06a"/><text x="4307.5" y="1546.3"><tspan x="4307.5">gini = 0.32</tspan><tspan x="4307.5" dy="18.67">samples = 5</tspan><tspan x="4307.5" dy="18.67">value = [4, 1, 0, 0, 0, 0, 0, 0]</tspan><tspan x="4307.5" dy="18.67">class = Adoption</tspan></text></g>
<g class="node" id="n95"><rect x="4461" y="1525" width="302" height="86" rx="12" fill="#f1fdf9"/><text x="4612" y="1546.3"><tspan x="4612">gini = 0.5518</tspan><tspan x="4612" dy="18.67">samples = 287</tspan><tspan x="4612" dy="18.67">value = [0, 4, 11, 141, 130, 1, 0, 0]</tspan><tspan x="4612" dy="18.67">class = Euthanasia</tspan></text></g>
<g class="node" id="n96"><rect x="4791" y="1525" width="249" height="86" rx="12" fill="#8ec7f0"/><text x="4915.5" y="1546.3"><tspan x="4915.5">gini = 0.5625</tspan><tspan x="4915.5" dy="18.67">samples = 8</tspan><tspan x="4915.5" dy="18.67">value = [0, 1, 1, 1, 5, 0, 0, 0]</tspan><tspan x="4915.5" dy="18.67">class = Euthanasia_Rabies</tspan></text></g>
</svg>
